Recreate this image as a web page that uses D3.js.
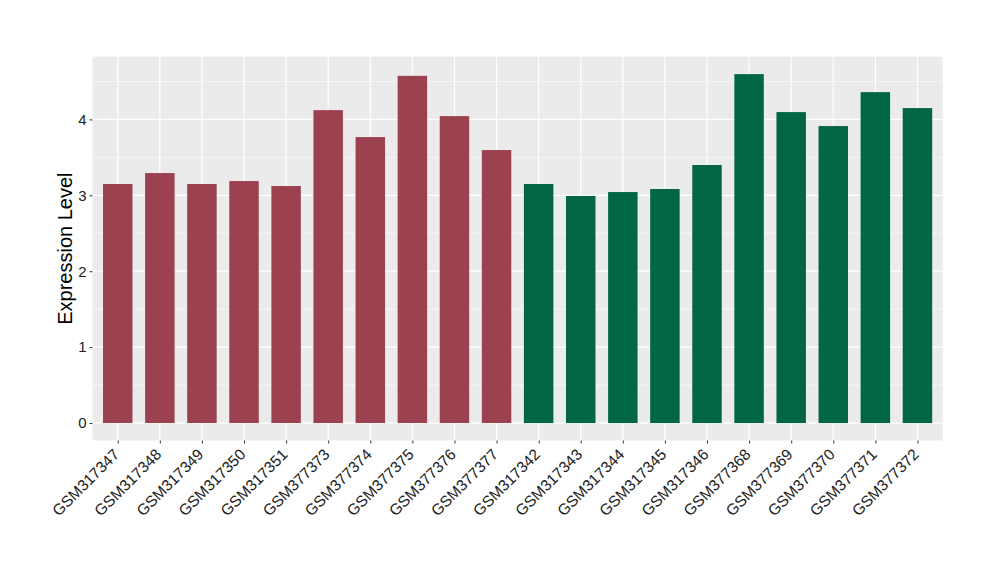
<!DOCTYPE html>
<html><head><meta charset="utf-8">
<script src="https://cdn.jsdelivr.net/npm/d3@7"></script>
<style>body{margin:0;background:#fff;} text{font-family:"Liberation Sans",Arial,sans-serif;}</style>
</head><body>
<svg id="c" width="1000" height="580"></svg>
<script>
const categories = ["GSM317347","GSM317348","GSM317349","GSM317350","GSM317351","GSM377373","GSM377374","GSM377375","GSM377376","GSM377377","GSM317342","GSM317343","GSM317344","GSM317345","GSM317346","GSM377368","GSM377369","GSM377370","GSM377371","GSM377372"];
const values = [3.149,3.293,3.149,3.188,3.122,4.122,3.767,4.574,4.043,3.596,3.149,2.991,3.043,3.083,3.399,4.596,4.096,3.912,4.359,4.149];
const groups = ["A","A","A","A","A","A","A","A","A","A","B","B","B","B","B","B","B","B","B","B"];
const yTicks = [0,1,2,3,4];
const groupColors = {A:"#9B4150", B:"#006644"};

const svg = d3.select("#c");
const L = 92.5, R = 942.7, T = 56.7, B = 440.5;
const n = categories.length;
const step = (R - L) / (n - 1 + 1.2);
const x = d3.scalePoint().domain(categories).range([L + 0.6*step, R - 0.6*step]);
const maxV = d3.max(values);
const pad = maxV * 0.05;
const y = d3.scaleLinear().domain([-pad, maxV + pad]).range([B, T]);

svg.append("rect").attr("x", L).attr("y", T).attr("width", R - L).attr("height", B - T).attr("fill", "#EBEBEB");
const g = svg.append("g");
const minor = d3.range(0.5, maxV + pad, 1);
g.selectAll(".mn").data(minor).enter().append("line")
  .attr("x1", L).attr("x2", R).attr("y1", d => y(d)).attr("y2", d => y(d))
  .attr("stroke", "#fff").attr("stroke-width", 0.6);
g.selectAll(".mj").data(yTicks).enter().append("line")
  .attr("x1", L).attr("x2", R).attr("y1", d => y(d)).attr("y2", d => y(d))
  .attr("stroke", "#fff").attr("stroke-width", 1.2);
g.selectAll(".vx").data(categories).enter().append("line")
  .attr("x1", d => x(d)).attr("x2", d => x(d)).attr("y1", T).attr("y2", B)
  .attr("stroke", "#fff").attr("stroke-width", 1.2);

const bw = step * 0.7;
g.selectAll(".bar").data(categories).enter().append("rect")
  .attr("x", d => x(d) - bw/2)
  .attr("width", bw)
  .attr("y", (d,i) => y(values[i]))
  .attr("height", (d,i) => y(0) - y(values[i]))
  .attr("fill", (d,i) => groupColors[groups[i]]);

const ya = svg.append("g").attr("transform", `translate(${L},0)`)
  .call(d3.axisLeft(y).tickValues(yTicks).tickSize(3).tickPadding(3).tickFormat(d3.format("d")));
ya.attr("font-size", null).attr("font-family", null);
ya.select(".domain").remove();
ya.selectAll("line").attr("stroke", "#333");
ya.selectAll("text").style("font-size", "15px").attr("fill", "#222");

const xa = svg.append("g").attr("transform", `translate(0,${B})`)
  .call(d3.axisBottom(x).tickSize(3).tickPadding(2));
xa.attr("font-size", null).attr("font-family", null);
xa.select(".domain").remove();
xa.selectAll("line").attr("stroke", "#333");
xa.selectAll("text").style("font-size", "15.5px").attr("fill", "#222")
  .attr("text-anchor", "end")
  .attr("x", 0).attr("y", 0).attr("dy", 0)
  .attr("transform", "translate(2,15) rotate(-45)");

svg.append("text").attr("transform", `translate(72,${(T+B)/2}) rotate(-90)`)
  .attr("text-anchor", "middle").style("font-size", "20px").attr("fill", "#000")
  .text("Expression Level");
</script>
</body></html>
